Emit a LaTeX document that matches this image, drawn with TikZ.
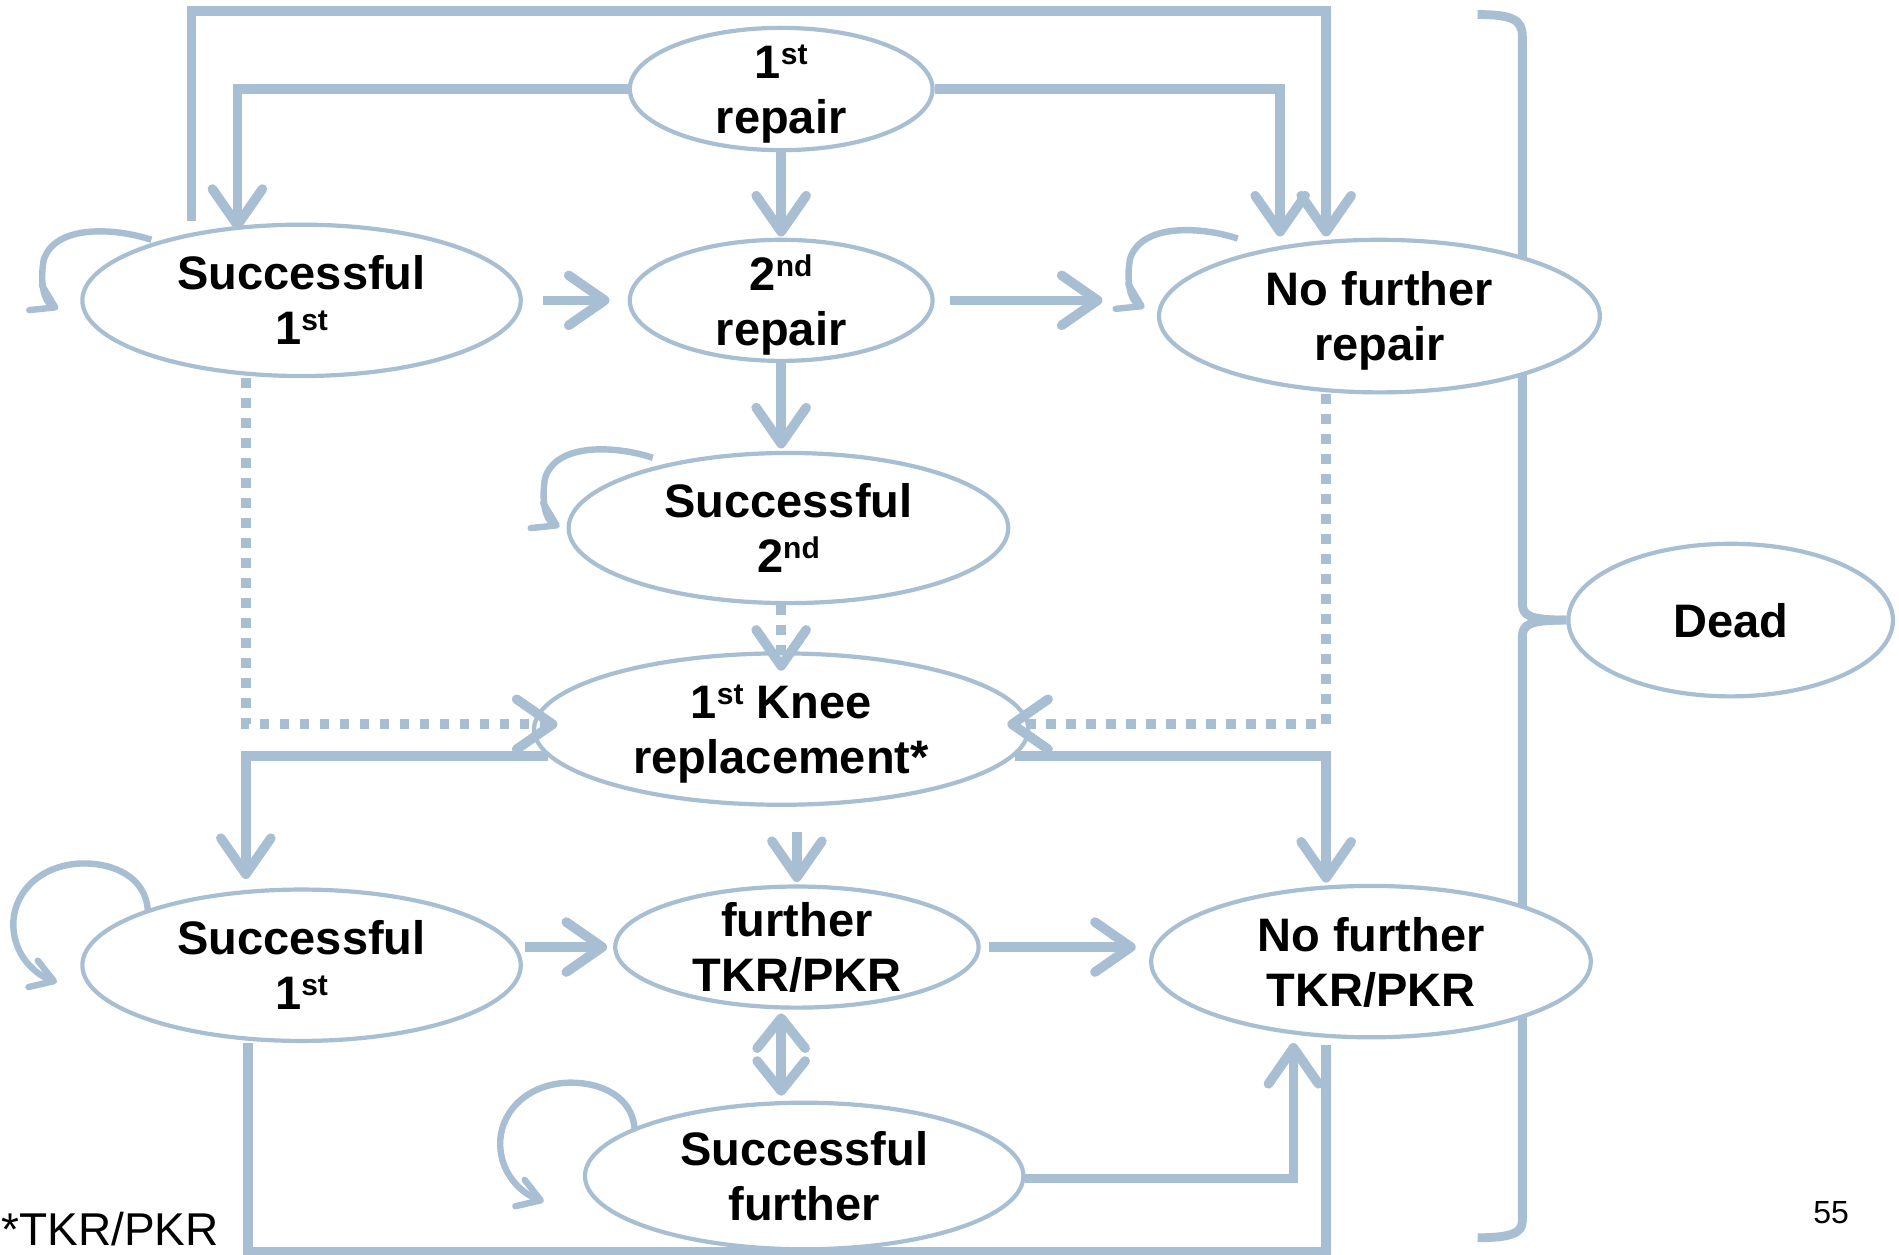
\documentclass[tikz,border=0pt]{standalone}
\usepackage{fontspec}
\setmainfont{Liberation Sans}
\usetikzlibrary{shapes.geometric,arrows.meta,calc}
\definecolor{lb}{RGB}{168,190,210}
\pgfdeclarelayer{bg}
\pgfsetlayers{bg,main}
\newcommand\myss[1]{\raisebox{7pt}{\fontsize{15}{15}\selectfont #1}}
\begin{document}
\begin{tikzpicture}[x=0.6056pt,y=-0.6056pt,
  state/.style={ellipse, draw=lb, line width=2.1pt, fill=white, inner sep=-4pt, align=center, text depth=0pt, font=\bfseries\fontsize{23.5}{27.5}\selectfont},
  sz/.style 2 args={minimum width={#1*0.6056pt}, minimum height={#2*0.6056pt}},
  con/.style={draw=lb, line width=4.8pt},
  arr/.style={con, -{Straight Barb[length=18pt,width=25pt,round]}},
  darr/.style={con, {Straight Barb[length=15pt,width=24pt,round]}-{Straight Barb[length=15pt,width=24pt,round]}},
  dots/.style={con, dash pattern=on 4.8pt off 5.2pt},
  darrow/.style={dots, -{Straight Barb[length=18pt,width=25pt,round]}},
  lp/.style={draw=lb, line width=3.2pt, -{Straight Barb[length=11pt,width=14pt,round]}},
  brace/.style={draw=lb, line width=4.4pt}]
\useasboundingbox (0,0) rectangle (1568,1036);

% nodes
\node[state, sz={250}{101}] (n1) at (645,73.5) {1\myss{st}\\repair};
\node[state, sz={362}{125}] (n2) at (249,248) {Successful\\1\myss{st}};
\node[state, sz={250}{100}] (n3) at (645,248) {2\myss{nd}\\repair};
\node[state, sz={364}{126}] (n4) at (1139,261) {No further\\repair};
\node[state, sz={363}{124}] (n5) at (651,436) {Successful\\2\myss{nd}};
\node[state, sz={408}{125}] (n6) at (645,602) {1\myss{st} Knee\\replacement*};
\node[state, sz={362}{125}] (n7) at (249,797) {Successful\\1\myss{st}};
\node[state, sz={300}{100}] (n8) at (658,782) {further\\TKR/PKR};
\node[state, sz={363}{125}] (n9) at (1132,794) {No further\\TKR/PKR};
\node[state, sz={362}{121}] (n10) at (664,971) {Successful\\further};
\node[state, sz={268}{126}] (dead) at (1429,512) {Dead};

\node[anchor=base west, inner sep=0pt, font=\fontsize{23}{23}\selectfont] (note) at (1,1028) {*TKR/PKR};
\node[anchor=base east, inner sep=0pt, font=\fontsize{16}{16}\selectfont] (pg) at (1527,1010) {55};

\coordinate (bt) at (1220,12);
\coordinate (bb) at (1220,1022);

\begin{pgfonlayer}{bg}
\fill[white] (0,0) rectangle (1568,1036);
% brace to Dead
\draw[brace] (bt) .. controls (1248,12) and (1257,16) .. (1257,30) -- (1257,498) .. controls (1257,508) and (1262,512) .. (dead.west);
\draw[brace] (dead.west) .. controls (1262,512) and (1257,516) .. (1257,526) -- (1257,1008) .. controls (1257,1018) and (1248,1022) .. (bb);
% bottom loop line
\draw[con] ($(n7.south)+(-44,0)$) |- ($(n9.south)+(-37,175)$) -- ($(n9.south)+(-37,5)$);
\end{pgfonlayer}

% connectors
\draw[arr] ($(n2.north)+(-91,-1)$) |- ($(n1.north)+(0,-12)$) -| ($(n4.north)+(-44,-1)$);
\draw[arr] (n1.west) -| ($(n2.north)+(-53,6)$);
\draw[arr] (n1.east) -| ($(n4.north)+(-82,-1)$);
\draw[arr] (n1.south) -- ($(n3.north)+(0,-1)$);
\draw[arr] ($(n2.east)+(17,0)$) -- ($(n3.west)+(-15,0)$);
\draw[arr] ($(n3.east)+(13,0)$) -- ($(n3.east -| n4.west)+(-45,0)$);
\draw[arr] (n3.south) -- ($(n3.south |- n5.north)+(0,-2)$);
\draw[darrow] (n3.south |- n5.south) -- ($(n6.north)+(0,16)$);
\draw[darrow] ($(n2.south)+(-46,0)$) |- ($(n6.west)+(21,-4)$);
\draw[darrow] ($(n4.south)+(-44,0)$) |- ($(n6.east)+(-19,-4)$);
\draw[arr] ($(n6.west)+(13,22)$) -| ($(n7.north)+(-46,-7)$);
\draw[arr] ($(n6.east)+(-13,22)$) -| ($(n9.north)+(-37,-1)$);
\draw[arr] ($(n6.south -| n8.north)+(0,21)$) -- ($(n8.north)+(0,-2)$);
\draw[arr] ($(n8.west -| n7.east)+(2,0)$) -- ($(n8.west)+(-5,0)$);
\draw[arr] ($(n8.east)+(7,0)$) -- ($(n8.east -| n9.west)+(-11,0)$);
\draw[darr] ($(n8.south)+(-13,3)$) -- ($(n10.north)+(-19,-4)$);
\draw[arr] ($(n10.east)+(0,2)$) -| ($(n9.south)+(-64,3)$);

% self loops (small)
\begin{scope}[shift={($(n2.center)+(-124,-50)$)}]
\draw[lp] (0,0) .. controls (-30,-10) and (-80,-13) .. (-89,17) .. controls (-92,35) and (-89,51) .. (-77,57);
\end{scope}
\begin{scope}[shift={($(n4.center)+(-117,-64)$)}]
\draw[lp] (0,0) .. controls (-30,-10) and (-80,-13) .. (-89,17) .. controls (-92,35) and (-89,51) .. (-77,57);
\end{scope}
\begin{scope}[shift={($(n5.center)+(-112,-58)$)}]
\draw[lp] (0,0) .. controls (-30,-10) and (-80,-13) .. (-89,17) .. controls (-92,35) and (-89,51) .. (-77,57);
\end{scope}
% self loops (large)
\begin{scope}[shift={($(n7.center)+(-127,-46)$)}]
\draw[lp] (0,0) .. controls (-2,-26) and (-27,-39) .. (-56,-38) .. controls (-92,-36) and (-112,-11) .. (-111,14) .. controls (-110,39) and (-92,54) .. (-75,60);
\end{scope}
\begin{scope}[shift={($(n10.center)+(-140,-39)$)}]
\draw[lp] (0,0) .. controls (-2,-26) and (-27,-39) .. (-56,-38) .. controls (-92,-36) and (-112,-11) .. (-111,14) .. controls (-110,39) and (-92,54) .. (-75,60);
\end{scope}
\end{tikzpicture}
\end{document}
